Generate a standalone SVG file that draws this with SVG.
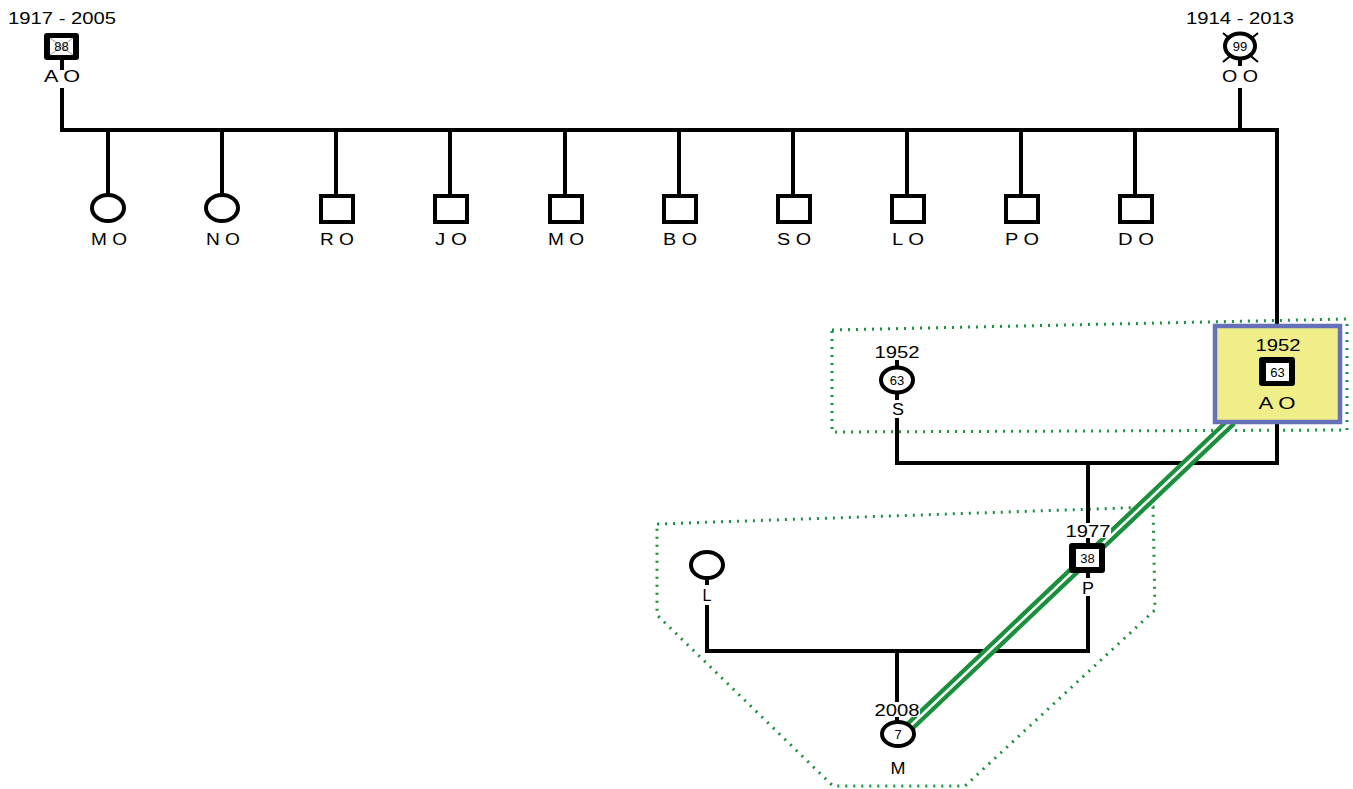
<svg xmlns="http://www.w3.org/2000/svg" width="1353" height="789" viewBox="0 0 1353 789">
<style>
text{font-family:"Liberation Sans",Arial,sans-serif;fill:#000;text-anchor:middle}
.yr{font-size:16px}
.lb{font-size:16px}
.n{font-size:13px}
.bg{fill:#fff}
.ln{stroke:#000;stroke-width:4;fill:none}
.sh{stroke:#000;stroke-width:4;fill:#fff}
.grp{stroke:#1a8f3c;stroke-width:3;stroke-dasharray:2 6;fill:none}
</style>
<rect width="1353" height="789" fill="#fff"/>
<g id="groups">
<polygon class="grp" points="832,330 1347,319 1347,430 832,432"/>
<polygon class="grp" points="657,524 1153,507 1155,610 965,786 833,786 657,615"/>
</g>
<g id="connectors">
<path class="ln" d="M62,60 V70 M62,88 V130 H1277 V325 M1240,60 V66 M1240,88 V130"/>
<path class="ln" d="M108,130 V195 M222,130 V195 M336,130 V195 M450,130 V195 M565,130 V195 M679,130 V195 M793,130 V195 M907,130 V195 M1021,130 V195 M1135,130 V195"/>
<path class="ln" d="M897,360 V400 M897,418 V463 H1277 V423 M1088,463 V545 M1088,570 V578 M1088,596 V651 H707 V605 M707,578 V585 M897,651 V722"/>
<line x1="1232" y1="421" x2="907" y2="729" stroke="#1a8f3c" stroke-width="11"/>
<line x1="1234" y1="419" x2="905" y2="731" stroke="#fff" stroke-width="2.5"/>
</g>
<g id="n_ao_top">
<text class="yr" x="62" y="24" textLength="108" lengthAdjust="spacingAndGlyphs">1917 - 2005</text>
<rect x="44" y="33" width="35" height="27" rx="3" fill="#000"/>
<rect x="50" y="38" width="23" height="17" fill="#fff"/>
<path d="M50,38 L73,55 M73,38 L50,55" stroke="#999" stroke-width="1"/>
<text class="n" x="61.5" y="51">88</text>
<text class="lb" x="62" y="82" textLength="36" lengthAdjust="spacingAndGlyphs">A O</text>
</g>
<g id="n_oo_top">
<text class="yr" x="1240" y="24" textLength="108" lengthAdjust="spacingAndGlyphs">1914 - 2013</text>
<path d="M1223,33 L1258,62 M1258,33 L1223,62" stroke="#000" stroke-width="2"/>
<ellipse cx="1240" cy="46" rx="15" ry="12.5" class="sh" stroke-width="5"/>
<text class="n" x="1240" y="51">99</text>
<text class="lb" x="1240" y="82" textLength="36" lengthAdjust="spacingAndGlyphs">O O</text>
</g>
<g id="n_mo1"><ellipse cx="108" cy="208" rx="16" ry="13" class="sh"/><text class="lb" x="109" y="245" textLength="36" lengthAdjust="spacingAndGlyphs">M O</text></g>
<g id="n_no"><ellipse cx="222" cy="208" rx="16" ry="13" class="sh"/><text class="lb" x="223" y="245" textLength="34" lengthAdjust="spacingAndGlyphs">N O</text></g>
<g id="n_ro"><rect x="321" y="196" width="32" height="26" class="sh"/><text class="lb" x="337" y="245" textLength="34" lengthAdjust="spacingAndGlyphs">R O</text></g>
<g id="n_jo"><rect x="435" y="196" width="32" height="26" class="sh"/><text class="lb" x="451" y="245" textLength="32" lengthAdjust="spacingAndGlyphs">J O</text></g>
<g id="n_mo2"><rect x="550" y="196" width="32" height="26" class="sh"/><text class="lb" x="566" y="245" textLength="36" lengthAdjust="spacingAndGlyphs">M O</text></g>
<g id="n_bo"><rect x="664" y="196" width="32" height="26" class="sh"/><text class="lb" x="680" y="245" textLength="34" lengthAdjust="spacingAndGlyphs">B O</text></g>
<g id="n_so"><rect x="778" y="196" width="32" height="26" class="sh"/><text class="lb" x="794" y="245" textLength="34" lengthAdjust="spacingAndGlyphs">S O</text></g>
<g id="n_lo"><rect x="892" y="196" width="32" height="26" class="sh"/><text class="lb" x="908" y="245" textLength="32" lengthAdjust="spacingAndGlyphs">L O</text></g>
<g id="n_po"><rect x="1006" y="196" width="32" height="26" class="sh"/><text class="lb" x="1022" y="245" textLength="34" lengthAdjust="spacingAndGlyphs">P O</text></g>
<g id="n_do"><rect x="1120" y="196" width="32" height="26" class="sh"/><text class="lb" x="1136" y="245" textLength="36" lengthAdjust="spacingAndGlyphs">D O</text></g>
<g id="n_ao_focus">
<rect x="1215" y="326" width="125" height="96" fill="#f0ee88" stroke="#6670b8" stroke-width="4.5"/>
<text class="yr" x="1278" y="351" textLength="45" lengthAdjust="spacingAndGlyphs">1952</text>
<rect x="1259" y="357" width="36" height="29" rx="3" fill="#000"/>
<rect x="1266" y="363" width="23" height="18" fill="#fff"/>
<text class="n" x="1277.5" y="377">63</text>
<text class="lb" x="1277" y="409" textLength="37" lengthAdjust="spacingAndGlyphs">A O</text>
</g>
<g id="n_s">
<rect class="bg" x="874" y="344" width="46" height="14"/>
<text class="yr" x="897" y="358" textLength="45" lengthAdjust="spacingAndGlyphs">1952</text>
<ellipse cx="897" cy="380" rx="16" ry="12.5" class="sh" stroke-width="5"/>
<text class="n" x="897" y="385">63</text>
<text class="lb" x="898" y="415" textLength="12" lengthAdjust="spacingAndGlyphs">S</text>
</g>
<g id="n_p">
<rect class="bg" x="1065" y="523" width="46" height="15"/>
<text class="yr" x="1088" y="537" textLength="45" lengthAdjust="spacingAndGlyphs">1977</text>
<rect x="1069" y="543" width="36" height="30" rx="3" fill="#000"/>
<rect x="1076" y="549" width="23" height="18" fill="#fff"/>
<text class="n" x="1087.5" y="563">38</text>
<text class="lb" x="1088" y="594" textLength="12" lengthAdjust="spacingAndGlyphs">P</text>
</g>
<g id="n_l">
<ellipse cx="707" cy="565" rx="16" ry="13" class="sh"/>
<text class="lb" x="707" y="601">L</text>
</g>
<g id="n_m">
<rect class="bg" x="874" y="702" width="46" height="15"/>
<text class="yr" x="897" y="716" textLength="45" lengthAdjust="spacingAndGlyphs">2008</text>
<ellipse cx="898" cy="734" rx="16" ry="12" class="sh" stroke-width="5"/>
<text class="n" x="898" y="739">7</text>
<text class="lb" x="898" y="774" textLength="15" lengthAdjust="spacingAndGlyphs">M</text>
</g>
</svg>
